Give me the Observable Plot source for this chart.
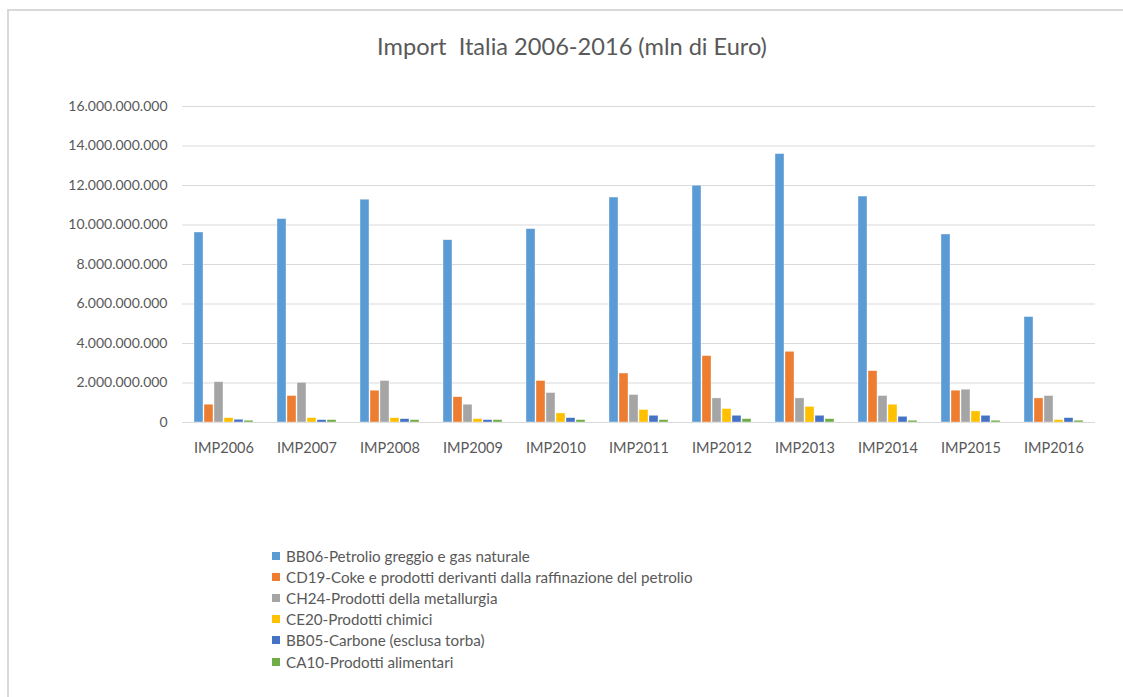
<!DOCTYPE html>
<html>
<head>
<meta charset="utf-8">
<script src="https://cdn.jsdelivr.net/npm/d3@7"></script>
<script src="https://cdn.jsdelivr.net/npm/@observablehq/plot@0.6"></script>
<style>
  body { margin: 0; background: #fff; font-family: Lato, "Open Sans", sans-serif; }
  #frame { position: absolute; left: 7px; top: 9px; width: 1130px; height: 700px;
           border-top: 2px solid #d9d9d9; border-left: 2px solid #d9d9d9; }
  #title { position: absolute; left: 0; width: 1144px; top: 35px; text-align: center;
           white-space: pre; font-size: 23.6px; color: #595959; line-height: 1; }
  #chart { position: absolute; left: 0; top: 0; }
  #legend { position: absolute; left: 272px; top: 545px; color: #595959; font-size: 15.2px; }
  #legend .row { height: 21.2px; display: flex; align-items: center; white-space: pre; }
  #legend .sw { width: 8px; height: 8px; margin-right: 6px; flex: none; }
</style>
</head>
<body>
<div id="frame"></div>
<div id="title">Import  Italia 2006-2016 (mln di Euro)</div>
<div id="chart"></div>
<div id="legend"></div>
<script>
// Categories (import years) and product series
const years = ["IMP2006", "IMP2007", "IMP2008", "IMP2009", "IMP2010", "IMP2011",
               "IMP2012", "IMP2013", "IMP2014", "IMP2015", "IMP2016"];

const seriesNames = [
  "BB06-Petrolio greggio e gas naturale",
  "CD19-Coke e prodotti derivanti dalla raffinazione del petrolio",
  "CH24-Prodotti della metallurgia",
  "CE20-Prodotti chimici",
  "BB05-Carbone (esclusa torba)",
  "CA10-Prodotti alimentari"
];

const seriesColors = ["#5B9BD5", "#ED7D31", "#A5A5A5", "#FFC000", "#4472C4", "#70AD47"];

// Import values in euro, one array per series
const bb06 = [9620000000, 10300000000, 11280000000, 9230000000, 9790000000, 11390000000,
              11990000000, 13590000000, 11440000000, 9520000000, 5340000000];
const cd19 = [900000000, 1340000000, 1610000000, 1280000000, 2100000000, 2480000000,
              3360000000, 3580000000, 2600000000, 1610000000, 1220000000];
const ch24 = [2040000000, 2010000000, 2100000000, 900000000, 1490000000, 1390000000,
              1220000000, 1220000000, 1340000000, 1660000000, 1340000000];
const ce20 = [220000000, 220000000, 220000000, 170000000, 460000000, 630000000,
              680000000, 790000000, 900000000, 560000000, 120000000];
const bb05 = [140000000, 120000000, 170000000, 120000000, 220000000, 340000000,
              340000000, 340000000, 290000000, 340000000, 220000000];
const ca10 = [90000000, 120000000, 120000000, 120000000, 120000000, 120000000,
              170000000, 170000000, 90000000, 90000000, 90000000];

const yTicks = [0, 2000000000, 4000000000, 6000000000, 8000000000, 10000000000,
                12000000000, 14000000000, 16000000000];

const seriesValues = [bb06, cd19, ch24, ce20, bb05, ca10];

// Long table for Plot
const rows = [];
years.forEach((year, i) => {
  seriesNames.forEach((name, s) => {
    rows.push({year, series: name, value: seriesValues[s][i]});
  });
});

const it = d3.formatLocale({decimal: ",", thousands: ".", grouping: [3], currency: ["", " €"]});
const fmt = it.format(",d");

const chart = Plot.plot({
  width: 1123,
  height: 480,
  marginTop: 106,
  marginBottom: 58,
  marginLeft: 182,
  marginRight: 28,
  style: {fontFamily: "Lato, 'Open Sans', sans-serif", color: "#595959", background: "transparent"},
  fx: {domain: years, paddingInner: 0, paddingOuter: 0, label: null},
  x: {domain: seriesNames, paddingInner: 0.15, paddingOuter: 0.88, axis: null},
  y: {domain: [0, 16000000000], label: null},
  color: {domain: seriesNames, range: seriesColors},
  marks: [
    Plot.gridY(yTicks, {stroke: "#d9d9d9", strokeOpacity: 1, strokeWidth: 1.2}),
    Plot.ruleY([0], {stroke: "#d9d9d9", strokeWidth: 1.2}),
    Plot.barY(rows, {fx: "year", x: "series", y: "value", fill: "series",
                     stroke: "#ffffff", strokeWidth: 0.6, strokeOpacity: 0.6}),
    Plot.axisY(yTicks, {tickSize: 0, tickPadding: 15, tickFormat: fmt, fontSize: 14,
                        label: null, fill: "#595959"}),
    Plot.axisFx({anchor: "bottom", tickSize: 0, tickPadding: 20, fontSize: 14.5,
                 label: null, fill: "#595959"})
  ]
});
document.getElementById("chart").appendChild(chart);

// Vertical legend under the chart
const legend = document.getElementById("legend");
seriesNames.forEach((name, s) => {
  const row = document.createElement("div");
  row.className = "row";
  const sw = document.createElement("span");
  sw.className = "sw";
  sw.style.background = seriesColors[s];
  const label = document.createElement("span");
  label.textContent = name;
  row.appendChild(sw);
  row.appendChild(label);
  legend.appendChild(row);
});
</script>
</body>
</html>
